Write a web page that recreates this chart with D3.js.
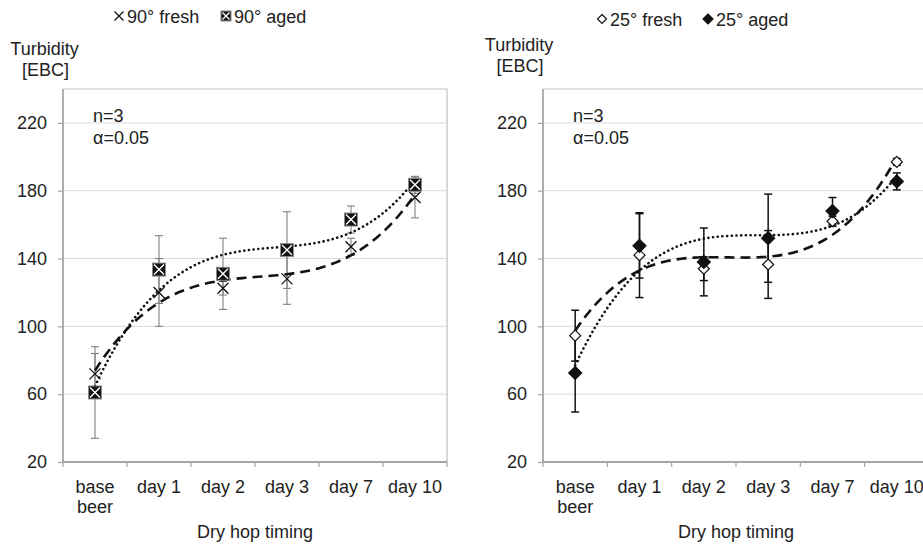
<!DOCTYPE html>
<html>
<head>
<meta charset="utf-8">
<script src="https://cdn.jsdelivr.net/npm/d3@7"></script>
<style>
  body { margin: 0; background: #fff; }
  svg { display: block; font-family: 'Liberation Sans', Arial, sans-serif; }
</style>
</head>
<body>
<div id="chart"></div>
<script>
// categories and ticks
const categories = ['base beer', 'day 1', 'day 2', 'day 3', 'day 7', 'day 10']
const yTicks = [20, 60, 100, 140, 180, 220]

// 90° series (mean, +/- error)
const fresh90 = [72, 120, 122.5, 128, 147, 176]
const fresh90Err = [12, 20, 4, 15, 5, 12]
const aged90 = [61, 133.5, 131, 145, 163, 183.5]
const aged90Err = [27, 20, 21, 22.6, 8, 5]

// 25° series
const fresh25 = [94.5, 142, 134, 136.5, 162, 197]
const fresh25Err = [15, 25, 7, 20, 3, 2]
const aged25 = [72.5, 147.5, 138, 152, 168, 185.5]
const aged25Err = [23, 19, 20, 26, 8, 5]

const width = 923
const height = 547
const plotTop = 89
const plotBottom = 462
const axisColor = '#a6a6a6'

const svg = d3.select('#chart')
    .append('svg')
    .attr('width', width)
    .attr('height', height)

// least squares cubic, like the spreadsheet trendline
const cubicFit = (ys) => {
    const n = 4
    const A = d3.range(n).map(() => d3.range(n + 1).map(() => 0))
    ys.forEach((yv, i) => {
        const xv = i + 1
        for (let r = 0; r < n; r++) {
            for (let c = 0; c < n; c++) A[r][c] += Math.pow(xv, r + c)
            A[r][n] += yv * Math.pow(xv, r)
        }
    })
    for (let i = 0; i < n; i++) {
        let p = i
        for (let k = i + 1; k < n; k++) if (Math.abs(A[k][i]) > Math.abs(A[p][i])) p = k
        const tmp = A[i]; A[i] = A[p]; A[p] = tmp
        for (let k = i + 1; k < n; k++) {
            const f = A[k][i] / A[i][i]
            for (let c = i; c <= n; c++) A[k][c] -= f * A[i][c]
        }
    }
    const coef = new Array(n).fill(0)
    for (let i = n - 1; i >= 0; i--) {
        let s = A[i][n]
        for (let c = i + 1; c < n; c++) s -= A[i][c] * coef[c]
        coef[i] = s / A[i][i]
    }
    return (xv) => coef[0] + coef[1] * xv + coef[2] * xv * xv + coef[3] * xv * xv * xv
}

const drawPanel = (opt) => {
    const g = svg.append('g')
    const x = d3.scaleBand().domain(categories).range([opt.left, opt.right])
    const y = d3.scaleLinear().domain([20, 240]).range([plotBottom, plotTop])
    const cx = (i) => x(categories[i]) + x.bandwidth() / 2

    // gridlines
    g.selectAll('.grid')
        .data(yTicks.filter(d => d > 20))
        .enter().append('line')
        .attr('x1', opt.left).attr('x2', opt.right)
        .attr('y1', d => y(d)).attr('y2', d => y(d))
        .attr('stroke', '#d9d9d9').attr('stroke-width', 1)

    // box border top / right
    g.append('path')
        .attr('d', 'M' + opt.left + ',' + y(240) + 'H' + opt.right + 'V' + y(20))
        .attr('fill', 'none').attr('stroke', '#bfbfbf').attr('stroke-width', 1.2)

    // y axis
    const yAxis = g.append('g')
        .attr('transform', 'translate(' + opt.left + ',0)')
        .call(d3.axisLeft(y).tickValues(yTicks).tickSize(5).tickPadding(11).tickSizeOuter(0))
    yAxis.select('.domain').remove()
    yAxis.selectAll('.tick line').attr('stroke', axisColor).attr('stroke-width', 1.2)
    yAxis.selectAll('.tick text').attr('fill', '#222').style('font-size', '18px')
    g.append('line')
        .attr('x1', opt.left).attr('x2', opt.left)
        .attr('y1', y(240)).attr('y2', y(20) + 0.5)
        .attr('stroke', axisColor).attr('stroke-width', 1.8)

    // x axis
    g.append('line')
        .attr('x1', opt.left).attr('x2', opt.right)
        .attr('y1', y(20)).attr('y2', y(20))
        .attr('stroke', axisColor).attr('stroke-width', 1.8)
    g.selectAll('.xtick')
        .data(d3.range(categories.length + 1))
        .enter().append('line')
        .attr('x1', i => opt.left + i * x.bandwidth())
        .attr('x2', i => opt.left + i * x.bandwidth())
        .attr('y1', y(20)).attr('y2', y(20) + 5)
        .attr('stroke', axisColor).attr('stroke-width', 1.2)

    const xl = g.selectAll('.xlab')
        .data(categories)
        .enter().append('text')
        .attr('x', (d, i) => cx(i))
        .attr('y', 493)
        .attr('text-anchor', 'middle')
        .attr('fill', '#222')
        .style('font-size', '18px')
    xl.each(function (d) {
        const parts = d === 'base beer' ? ['base', 'beer'] : [d]
        d3.select(this).selectAll('tspan')
            .data(parts)
            .enter().append('tspan')
            .attr('x', d3.select(this).attr('x'))
            .attr('dy', (p, j) => j === 0 ? 0 : 19.5)
            .text(p => p)
    })

    g.append('text')
        .attr('x', (opt.left + opt.right) / 2)
        .attr('y', 538)
        .attr('text-anchor', 'middle')
        .attr('fill', '#222')
        .style('font-size', '18px')
        .text('Dry hop timing')

    // y title
    g.append('text').attr('x', opt.titleX).attr('y', opt.titleY)
        .attr('text-anchor', 'middle').attr('fill', '#222').style('font-size', '18px')
        .text('Turbidity')
    g.append('text').attr('x', opt.titleX + 1).attr('y', opt.titleY + 21)
        .attr('text-anchor', 'middle').attr('fill', '#222').style('font-size', '18px')
        .text('[EBC]')

    // stats note
    g.append('text').attr('x', opt.left + 30).attr('y', 122)
        .attr('fill', '#222').style('font-size', '18px').text('n=3')
    g.append('text').attr('x', opt.left + 30).attr('y', 143.5)
        .attr('fill', '#222').style('font-size', '18px').text('α=0.05')

    // error bars
    const series = [
        { vals: opt.fresh, err: opt.freshErr },
        { vals: opt.aged, err: opt.agedErr }
    ]
    series.forEach((s) => {
        const eb = g.append('g')
            .attr('stroke', opt.errColor)
            .attr('stroke-width', opt.errWidth)
        eb.selectAll('.v')
            .data(s.vals)
            .enter().append('line')
            .attr('x1', (d, i) => cx(i)).attr('x2', (d, i) => cx(i))
            .attr('y1', (d, i) => y(d + s.err[i])).attr('y2', (d, i) => y(d - s.err[i]))
        eb.selectAll('.t')
            .data(s.vals)
            .enter().append('line')
            .attr('x1', (d, i) => cx(i) - 4).attr('x2', (d, i) => cx(i) + 4)
            .attr('y1', (d, i) => y(d + s.err[i])).attr('y2', (d, i) => y(d + s.err[i]))
        eb.selectAll('.b')
            .data(s.vals)
            .enter().append('line')
            .attr('x1', (d, i) => cx(i) - 4).attr('x2', (d, i) => cx(i) + 4)
            .attr('y1', (d, i) => y(d - s.err[i])).attr('y2', (d, i) => y(d - s.err[i]))
    })

    // trendlines: dashed = fresh, dotted = aged
    const idx = d3.scaleLinear().domain([1, categories.length]).range([cx(0), cx(categories.length - 1)])
    const steps = d3.range(0, 101).map(k => 1 + k * (categories.length - 1) / 100)
    const line = (f) => d3.line().x(t => idx(t)).y(t => y(f(t)))(steps)
    g.append('path')
        .attr('d', line(cubicFit(opt.fresh)))
        .attr('fill', 'none').attr('stroke', '#111').attr('stroke-width', 2.6)
        .attr('stroke-dasharray', '10,6')
    g.append('path')
        .attr('d', line(cubicFit(opt.aged)))
        .attr('fill', 'none').attr('stroke', '#111').attr('stroke-width', 2.6)
        .attr('stroke-linecap', 'round')
        .attr('stroke-dasharray', '0.1,4.6')

    // markers
    opt.freshMarker(g, opt.fresh.map((d, i) => [cx(i), y(d)]), 11)
    opt.agedMarker(g, opt.aged.map((d, i) => [cx(i), y(d)]), 13)

    // legend
    opt.freshMarker(g, [[opt.legendX[0], opt.legendY - 6.5]], 9)
    g.append('text').attr('x', opt.legendX[0] + 8).attr('y', opt.legendY)
        .attr('fill', '#222').style('font-size', '18px').text(opt.names[0])
    opt.agedMarker(g, [[opt.legendX[1], opt.legendY - 6.5]], 10)
    g.append('text').attr('x', opt.legendX[1] + 8).attr('y', opt.legendY)
        .attr('fill', '#222').style('font-size', '18px').text(opt.names[1])
}

const crossMarker = (g, pts, s) => {
    const h = s / 2
    g.append('g').selectAll('path')
        .data(pts)
        .enter().append('path')
        .attr('d', p => 'M' + (p[0] - h) + ',' + (p[1] - h) + 'L' + (p[0] + h) + ',' + (p[1] + h) +
            'M' + (p[0] - h) + ',' + (p[1] + h) + 'L' + (p[0] + h) + ',' + (p[1] - h))
        .attr('stroke', '#111').attr('stroke-width', 1.3).attr('fill', 'none')
}

const boxCrossMarker = (g, pts, s) => {
    const h = s / 2
    const m = g.append('g').selectAll('g')
        .data(pts)
        .enter().append('g')
    m.append('rect')
        .attr('x', p => p[0] - h).attr('y', p => p[1] - h)
        .attr('width', s).attr('height', s)
        .attr('fill', '#111').attr('stroke', '#8c8c8c').attr('stroke-width', 1)
    m.append('path')
        .attr('d', p => 'M' + (p[0] - h + 1.5) + ',' + (p[1] - h + 1.5) + 'L' + (p[0] + h - 1.5) + ',' + (p[1] + h - 1.5) +
            'M' + (p[0] - h + 1.5) + ',' + (p[1] + h - 1.5) + 'L' + (p[0] + h - 1.5) + ',' + (p[1] - h + 1.5))
        .attr('stroke', '#fff').attr('stroke-width', 1.4)
}

const diamond = (fill) => (g, pts, s) => {
    const h = s / 2
    g.append('g').selectAll('path')
        .data(pts)
        .enter().append('path')
        .attr('d', p => 'M' + p[0] + ',' + (p[1] - h) + 'L' + (p[0] + h) + ',' + p[1] +
            'L' + p[0] + ',' + (p[1] + h) + 'L' + (p[0] - h) + ',' + p[1] + 'Z')
        .attr('fill', fill).attr('stroke', '#111').attr('stroke-width', 1.2)
}

drawPanel({
    left: 63, right: 447,
    fresh: fresh90, freshErr: fresh90Err,
    aged: aged90, agedErr: aged90Err,
    errColor: '#808080', errWidth: 1.1,
    freshMarker: crossMarker, agedMarker: boxCrossMarker,
    titleX: 44.5, titleY: 55,
    legendX: [119, 226], legendY: 22.5,
    names: ['90° fresh', '90° aged']
})

drawPanel({
    left: 543, right: 929,
    fresh: fresh25, freshErr: fresh25Err,
    aged: aged25, agedErr: aged25Err,
    errColor: '#111', errWidth: 1.5,
    freshMarker: diamond('#fff'), agedMarker: diamond('#111'),
    titleX: 519, titleY: 51,
    legendX: [602, 708], legendY: 25.5,
    names: ['25° fresh', '25° aged']
})
</script>
</body>
</html>
